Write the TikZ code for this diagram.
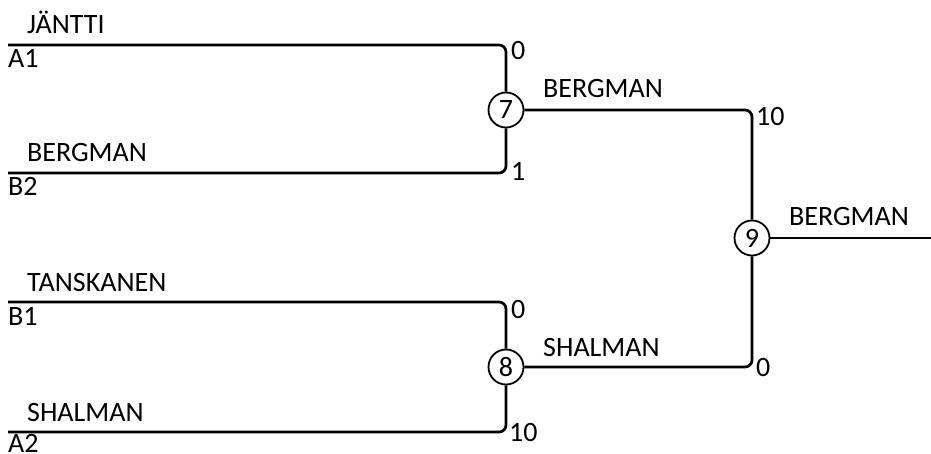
\documentclass[tikz,border=0pt]{standalone}
\usepackage{fontspec}
\setmainfont{Carlito}
\usetikzlibrary{positioning}

\tikzset{
  match/.style={draw, circle, line width=1.8pt, minimum size=35pt, inner sep=0pt},
  wire/.style={line width=2.7pt, rounded corners=7pt},
  player/.style={anchor=base west, inner sep=0pt},
  tally/.style={anchor=base west, inner sep=0pt}
}

\begin{document}
\begin{tikzpicture}[x=1pt, y=-1pt, font=\fontsize{28}{32}\selectfont]
  \useasboundingbox (0,0) rectangle (931,454);
  % players
  \coordinate (a1) at (8,45);
  \coordinate (b2) at (8,173);
  \coordinate (b1) at (8,302);
  \coordinate (a2) at (8,432);
  \coordinate (win) at (931,238);
  % matches
  \node[match] (m7) at (506,110) {7};
  \node[match] (m8) at (506,367) {8};
  \node[match] (m9) at (752,238) {9};
  % wires
  \draw[wire] (a1) -| (m7);
  \draw[wire] (b2) -| (m7);
  \draw[wire] (b1) -| (m8);
  \draw[wire] (a2) -| (m8);
  \draw[wire] (m7) -| (m9);
  \draw[wire] (m8) -| (m9);
  \draw[wire] (m9) -- (win);
  % names
  \node[player] (n1) at (27,34) {JÄNTTI};
  \node[player] (s1) at (8,68) {A1};
  \node[player] (n2) at (27,162) {BERGMAN};
  \node[player] (s2) at (8,196) {B2};
  \node[player] (n3) at (27,291) {TANSKANEN};
  \node[player] (s3) at (8,325) {B1};
  \node[player] (n4) at (27,421) {SHALMAN};
  \node[player] (s4) at (8,452) {A2};
  \node[player] (n7) at (543,98) {BERGMAN};
  \node[player] (n8) at (543,356) {SHALMAN};
  \node[player] (n9) at (789,226) {BERGMAN};
  % scores
  \node[tally] (c1) at (511,60) {0};
  \node[tally] (c2) at (511,181) {1};
  \node[tally] (c3) at (511,318) {0};
  \node[tally] (c4) at (509,441) {10};
  \node[tally] (c7) at (756,126) {10};
  \node[tally] (c8) at (756,376) {0};
\end{tikzpicture}
\end{document}
